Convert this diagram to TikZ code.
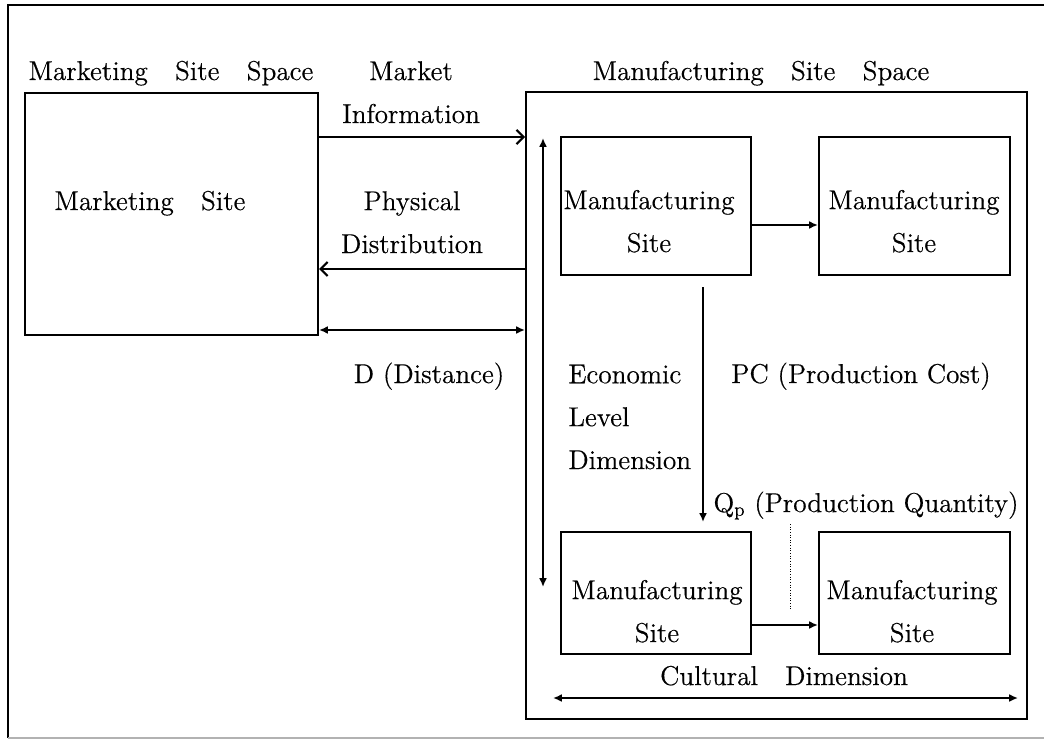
\documentclass[tikz,border=0pt]{standalone}
\usepackage{fontspec}
\setmainfont{lmroman12-regular.otf}[FakeBold=0.4]
\usetikzlibrary{arrows.meta}
\tikzset{
	box/.style={draw, line width=1.2pt, inner sep=0pt},
	txt/.style={inner sep=0pt, align=center, anchor=base},
	flow/.style={line width=1pt, -{Latex[length=5pt,width=4.5pt]}},
	both/.style={line width=1pt, {Latex[length=5pt,width=4.5pt]}-{Latex[length=5pt,width=4.5pt]}},
	info/.style={line width=1.2pt, -{Straight Barb[length=4pt,width=8pt]}},
}
\begin{document}
\begin{tikzpicture}[x=0.02cm,y=-0.02cm,font=\fontsize{15.5}{24.4}\selectfont]
		\useasboundingbox (0,0) rectangle (1044,740);
		% outer frame
		\draw[line width=1.2pt] (1044,5) -- (8,5) -- (8,738);
		\draw[gray!60, line width=0.8pt] (8,738) -- (1044,738);
		% the two spaces
		\node[box, minimum width=5.86cm, minimum height=4.84cm] (mkt) at (171.5,214) {};
		\node[box, minimum width=10.02cm, minimum height=12.54cm] (space) at (776.5,405.5) {};
		\node[txt] (mktspace) at (171,80) {Marketing\quad Site\quad Space};
		\node[txt] (mfgspace) at (761,80) {Manufacturing\quad Site\quad Space};
		\node[txt] (mktsite) at (150,210) {Marketing\quad Site};
		% manufacturing sites (base of a two-line node is its second line)
		\node[box, minimum width=3.8cm, minimum height=2.76cm] (ms1) at (656,206) {};
		\node[box, minimum width=3.82cm, minimum height=2.76cm] (ms2) at (914.5,206) {};
		\node[box, minimum width=3.8cm, minimum height=2.44cm] (ms3) at (656,593) {};
		\node[box, minimum width=3.82cm, minimum height=2.44cm] (ms4) at (914.5,593) {};
		\node[txt] (ms1t) at (649,252) {Manufacturing\\Site};
		\node[txt] (ms2t) at (914,252) {Manufacturing\\Site};
		\node[txt] (ms3t) at (657,642) {Manufacturing\\Site};
		\node[txt] (ms4t) at (912,642) {Manufacturing\\Site};
		% flows between the spaces
		\coordinate (yinfo) at (0,137);
		\coordinate (ydist) at (0,269);
		\coordinate (yd) at (0,330);
		\draw[info] (mkt.east |- yinfo) -- (space.west |- yinfo);
		\draw[info] (space.west |- ydist) -- (mkt.east |- ydist);
		\draw[both] (mkt.east |- yd) -- (space.west |- yd);
		\node[txt] (info) at (411,123) {Market\\Information};
		\node[txt] (phys) at (412,253) {Physical\\Distribution};
		\node[txt] (dist) at (429,383) {D (Distance)};
		% inside the manufacturing space
		\draw[flow] (ms1.east |- 0,225) -- (ms2.west |- 0,225);
		\draw[flow] (ms3.east |- 0,625) -- (ms4.west |- 0,625);
		\draw[flow, shorten <=0.22cm, shorten >=0.18cm] (ms1.south -| 703,0) -- (ms3.north -| 703,0);
		\coordinate (econtop) at (543,138);
		\coordinate (econbot) at (543,587);
		\draw[both] (econtop) -- (econbot);
		\coordinate (cultl) at (553,698);
		\coordinate (cultr) at (1018,698);
		\draw[both] (cultl) -- (cultr);
		\draw[densely dotted, line width=0.5pt] (790,524) -- (790,609);
		\node[txt, align=left, anchor=base west] (econ) at (568,469) {Economic\\Level\\Dimension};
		\node[txt] (pc) at (861,383) {PC (Production Cost)};
		\node[txt] (qp) at (866,512) {Q\textsubscript{p} (Production Quantity)};
		\node[txt] (cult) at (784,685) {Cultural\quad Dimension};
\end{tikzpicture}
\end{document}
